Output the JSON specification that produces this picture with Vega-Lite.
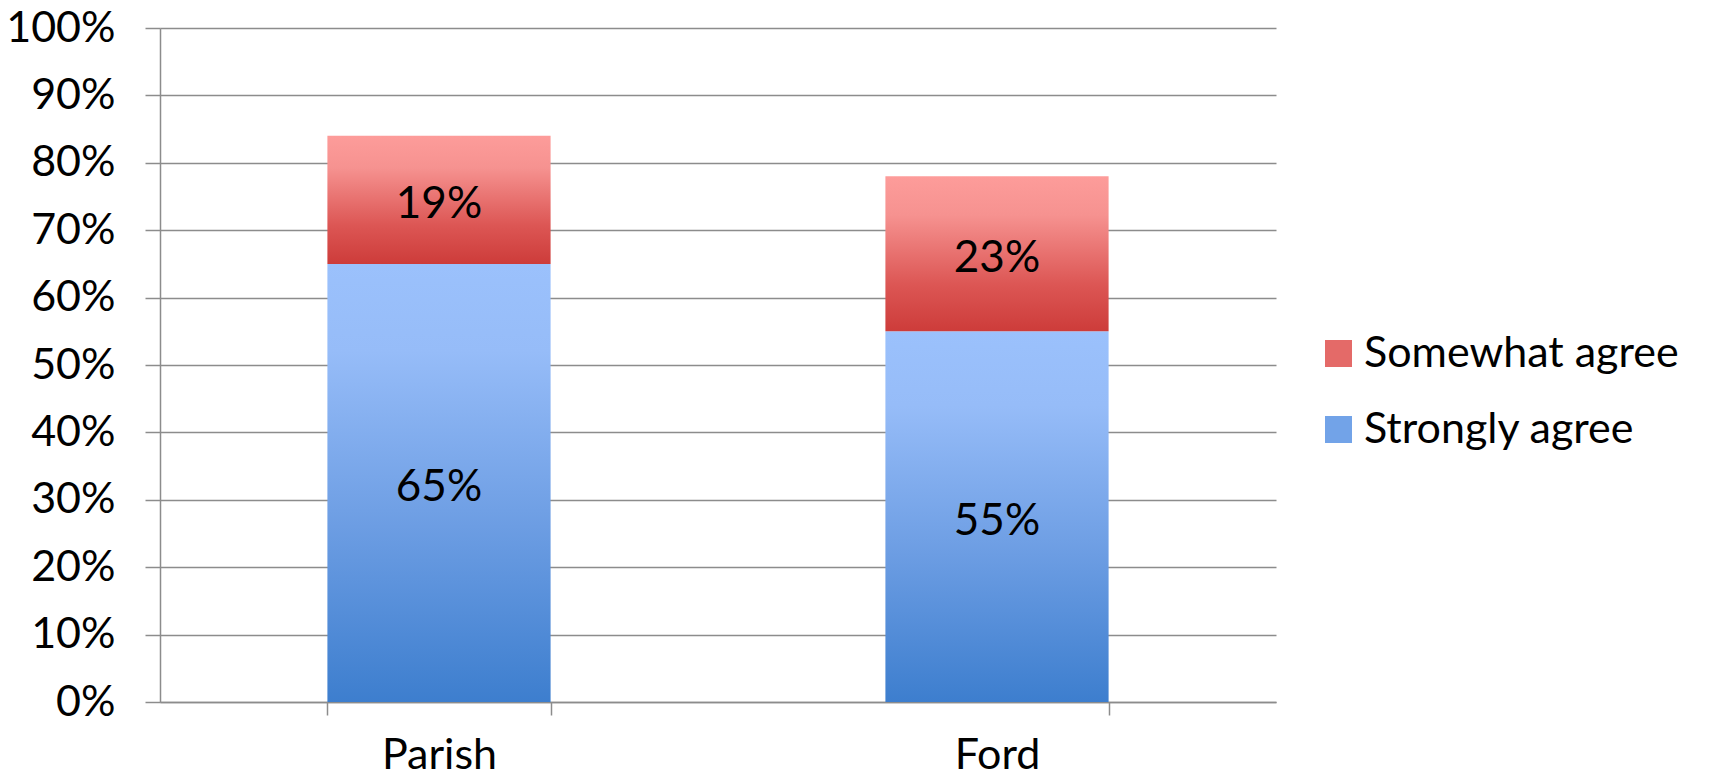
{
  "$schema": "https://vega.github.io/schema/vega-lite/v6.json",
  "width": 1116,
  "height": 674,
  "autosize": {"type": "none"},
  "padding": {"left": 160, "top": 28, "right": 435, "bottom": 73},
  "background": "white",
  "config": {
    "font": "Lato",
    "view": {"stroke": null}
  },
  "data": {
    "values": [
      {"name": "Parish", "series": "Strongly agree", "value": 0.65},
      {"name": "Parish", "series": "Somewhat agree", "value": 0.19},
      {"name": "Ford", "series": "Strongly agree", "value": 0.55},
      {"name": "Ford", "series": "Somewhat agree", "value": 0.23}
    ]
  },
  "transform": [
    {"stack": "value", "groupby": ["name"], "sort": [{"field": "series", "order": "descending"}], "as": ["v0", "v1"]}
  ],
  "encoding": {
    "x": {
      "field": "name",
      "type": "nominal",
      "sort": ["Parish", "Ford"],
      "scale": {"paddingInner": 0.6, "paddingOuter": 0.3},
      "axis": {
        "title": null,
        "labelAngle": 0,
        "labelFontSize": 43,
        "labelColor": "#000000",
        "labelPadding": 19,
        "tickBand": "extent",
        "tickSize": 13,
        "tickColor": "#8c8c8c",
        "tickWidth": 1.5,
        "domainColor": "#8c8c8c",
        "domainWidth": 1.5,
        "grid": false
      }
    }
  },
  "layer": [
    {
      "mark": {"type": "bar"},
      "encoding": {
        "y": {
          "field": "v0",
          "type": "quantitative",
          "scale": {"domain": [0, 1], "nice": false},
          "axis": {
            "title": null,
            "values": [0, 0.1, 0.2, 0.3, 0.4, 0.5, 0.6, 0.7, 0.8, 0.9, 1],
            "format": ".0%",
            "labelFontSize": 43,
            "labelColor": "#000000",
            "labelPadding": 30,
            "tickSize": 15,
            "tickColor": "#8c8c8c",
            "tickWidth": 1.5,
            "domainColor": "#8c8c8c",
            "domainWidth": 1.5,
            "grid": true,
            "gridColor": "#8c8c8c",
            "gridWidth": 1.5
          }
        },
        "y2": {"field": "v1"},
        "fill": {
          "condition": [
            {"test": "datum.series === 'Somewhat agree'", "value": {"gradient": "linear", "x1": 0, "y1": 0, "x2": 0, "y2": 1, "stops": [
                {"offset": 0, "color": "#FD9C9A"},
                {"offset": 0.25, "color": "#F69290"},
                {"offset": 0.7, "color": "#DC5654"},
                {"offset": 1, "color": "#CD3C3A"}
              ]}},
            {"test": "datum.series === 'Strongly agree'", "value": {"gradient": "linear", "x1": 0, "y1": 0, "x2": 0, "y2": 1, "stops": [
                {"offset": 0, "color": "#9BC1FC"},
                {"offset": 0.2, "color": "#96BCF8"},
                {"offset": 0.6, "color": "#6C9DE3"},
                {"offset": 1, "color": "#3D7ECE"}
              ]}}
          ],
          "field": "series",
          "type": "nominal",
          "scale": {
            "domain": ["Somewhat agree", "Strongly agree"],
            "range": ["#E46A68", "#72A3E8"]
          },
          "legend": {
            "title": null,
            "orient": "none",
            "legendX": 1157,
            "legendY": 304,
            "padding": 0,
            "symbolType": "square",
            "symbolSize": 729,
            "symbolStrokeWidth": 0,
            "labelFontSize": 43,
            "labelColor": "#000000",
            "labelOffset": 4,
            "rowPadding": 32,
            "labelLimit": 400
          }
        }
      }
    },
    {
      "transform": [{"calculate": "(datum.v0 + datum.v1) / 2", "as": "mid"}],
      "mark": {"type": "text", "fontSize": 44, "color": "#000000", "baseline": "middle", "align": "center", "dy": 5},
      "encoding": {
        "y": {"field": "mid", "type": "quantitative"},
        "text": {"field": "value", "type": "quantitative", "format": ".0%"},
        "detail": {"field": "series"}
      }
    }
  ]
}
